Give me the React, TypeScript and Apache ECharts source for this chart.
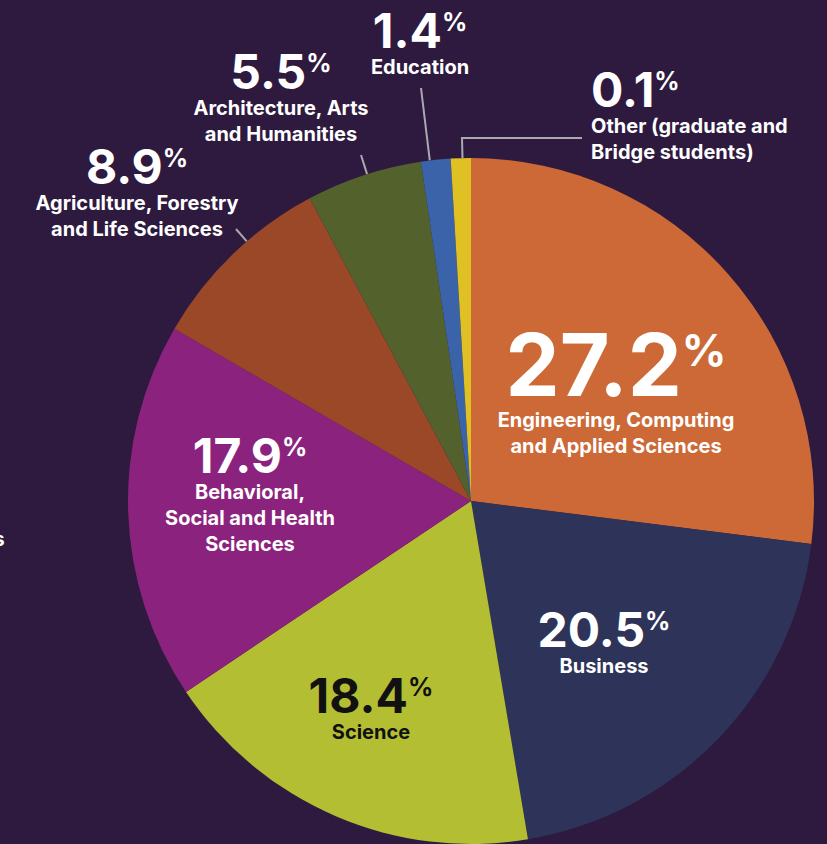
import React, { useEffect, useRef } from 'react';
import * as echarts from 'echarts';

// ---- data ----
const categories: string[] = [
  'Engineering, Computing\nand Applied Sciences',
  'Business',
  'Science',
  'Behavioral,\nSocial and Health\nSciences',
  'Agriculture, Forestry\nand Life Sciences',
  'Architecture, Arts\nand Humanities',
  'Education',
  'Other (graduate and\nBridge students)',
];
const shares: number[] = [27.2, 20.5, 18.4, 17.9, 8.9, 5.5, 1.4, 0.1];

// ---- styles / layout ----
const sliceColors = ['#cc6937', '#2e3459', '#b3be33', '#8b237e', '#9b4828', '#53622d', '#3b63a9', '#e0c124'];
const labelInk = ['#ffffff', '#ffffff', '#111111', '#ffffff', '#ffffff', '#ffffff', '#ffffff', '#ffffff'];
const BG = '#2d1a3e';
const CX = 471;
const CY = 501;
const R = 343;
const FONT = 'Inter';

const labelSpots: { x: number; y: number; align: string }[] = [
  { x: 616, y: 391, align: 'center' },
  { x: 604, y: 642, align: 'center' },
  { x: 371, y: 708, align: 'center' },
  { x: 250, y: 494, align: 'center' },
  { x: 137, y: 192, align: 'center' },
  { x: 281, y: 97, align: 'center' },
  { x: 420, y: 43, align: 'center' },
  { x: 591, y: 115, align: 'left' },
];
const insideLabel = [true, true, true, true, false, false, false, false];
// outer points of the leader lines (the start is projected onto the rim)
const leaderPaths: Record<number, number[][]> = {
  4: [[236, 229]],
  5: [[361, 155]],
  6: [[421, 88]],
  7: [[462, 138], [582, 138]],
};

export default function App() {
  const ref = useRef<HTMLDivElement>(null);
  useEffect(() => {
    if (!ref.current) return;
    const chart = echarts.init(ref.current, undefined, { renderer: 'svg' });
    const data = shares.map((v, i) => ({
      value: v,
      name: categories[i].replace(/\n/g, ' '),
      itemStyle: { color: sliceColors[i] },
      label: {
        position: insideLabel[i] ? 'inside' : 'outside',
        color: labelInk[i],
      },
      labelLine: { show: !insideLabel[i] },
    }));
    chart.setOption({
      animation: false,
      backgroundColor: BG,
      graphic: [
        {
          type: 'text',
          x: -6,
          y: 530,
          silent: true,
          style: { text: 's', fill: '#ffffff', font: `bold 19px ${FONT}` },
        },
      ],
      series: [
        {
          type: 'pie',
          center: [CX, CY],
          radius: R,
          startAngle: 90,
          clockwise: true,
          minAngle: 3.4,
          avoidLabelOverlap: false,
          silent: true,
          emphasis: { disabled: true },
          itemStyle: { borderWidth: 0 },
          data,
          label: {
            show: true,
            fontFamily: FONT,
            textBorderWidth: 0,
            formatter: (p: any) => {
              const i = p.dataIndex;
              const big = i === 0;
              const num = shares[i].toFixed(1);
              const lines = categories[i]
                .split('\n')
                .map((l) => `{name|${l}}`)
                .join('\n');
              return `{${big ? 'bigNum' : 'num'}|${num}}{${big ? 'bigPct' : 'pct'}|%}\n${lines}`;
            },
            rich: {
              bigNum: { fontFamily: FONT, fontWeight: 'bold', fontSize: 86, lineHeight: 84 },
              bigPct: { fontFamily: FONT, fontWeight: 'bold', fontSize: 44, lineHeight: 40, padding: [0, 0, 30, 0] },
              num: { fontFamily: FONT, fontWeight: 'bold', fontSize: 48, lineHeight: 48 },
              pct: { fontFamily: FONT, fontWeight: 'bold', fontSize: 25, lineHeight: 24, padding: [0, 0, 16, 0] },
              name: { fontFamily: FONT, fontWeight: 'bold', fontSize: 20, lineHeight: 26 },
            },
          },
          labelLine: {
            lineStyle: { color: '#a9a9b0', width: 2 },
          },
          labelLayout: (p: any) => {
            const i = p.dataIndex;
            const s = labelSpots[i];
            const out: any = { x: s.x, y: s.y, align: s.align, verticalAlign: 'middle' };
            const pts = leaderPaths[i];
            if (pts) {
              const dx = pts[0][0] - CX;
              const dy = pts[0][1] - CY;
              const d = Math.hypot(dx, dy);
              out.labelLinePoints = [[CX + (dx / d) * R, CY + (dy / d) * R], ...pts];
            }
            return out;
          },
        },
      ],
    });
    return () => chart.dispose();
  }, []);
  return (
    <div
      ref={ref}
      style={{ position: 'fixed', left: 0, top: 0, width: 827, height: 844, background: BG }}
    />
  );
}
